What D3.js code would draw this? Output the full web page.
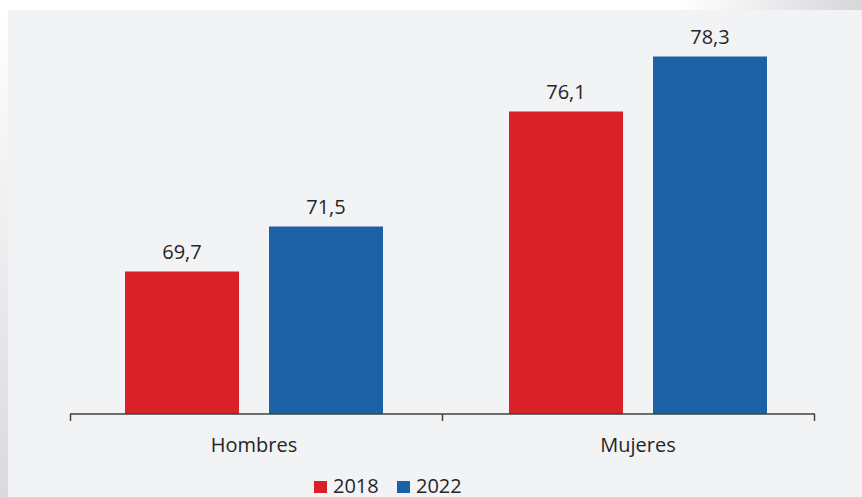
<!DOCTYPE html>
<html><head><meta charset="utf-8">
<script src="https://cdn.jsdelivr.net/npm/d3@7"></script>
<style>body{margin:0;background:#fff;}svg{display:block;}</style>
</head><body>
<svg id="c" width="862" height="497"></svg>
<script>
const categories = ["Hombres", "Mujeres"];
const seriesNames = ["2018", "2022"];
const values2018 = [69.7, 76.1];
const values2022 = [71.5, 78.3];
const colors = ["#db2128", "#1c60a5"];

const svg = d3.select("#c");
const W = 862, H = 497;
const defs = svg.append("defs");
const gl = defs.append("linearGradient").attr("id","gl").attr("x1",0).attr("y1",0).attr("x2",0).attr("y2",1);
gl.append("stop").attr("offset","0%").attr("stop-color","#ffffff");
gl.append("stop").attr("offset","100%").attr("stop-color","#d9dadd");
const gt = defs.append("linearGradient").attr("id","gt").attr("x1",0).attr("y1",0).attr("x2",1).attr("y2",0);
gt.append("stop").attr("offset","0%").attr("stop-color","#ffffff");
gt.append("stop").attr("offset","100%").attr("stop-color","#d6d7da");

svg.append("rect").attr("x",0).attr("y",0).attr("width",W).attr("height",H).attr("fill","#fff");
svg.append("rect").attr("x",0).attr("y",10).attr("width",8).attr("height",H-10).attr("fill","url(#gl)");
svg.append("rect").attr("x",680).attr("y",0).attr("width",W-680).attr("height",10).attr("fill","url(#gt)");
svg.append("rect").attr("x",8).attr("y",10).attr("width",W-8).attr("height",H-10).attr("fill","#f2f3f5");

// axis scale (ticks at band edges) and bar-group scale
const xAxisScale = d3.scaleBand().domain(categories).range([70, 814]);
const x0 = d3.scaleBand().domain(categories).range([62, 830]);
const x1 = d3.scaleBand().domain(seriesNames).range([63, 321]).paddingInner(30/144).paddingOuter(0);
const y = d3.scaleLinear().domain([64, 80]).range([414, 14]);

const data = categories.map((c,i)=>({cat:c, vals:[values2018[i], values2022[i]]}));
const font = "'Open Sans', sans-serif";

const g = svg.append("g");
data.forEach(d=>{
  d.vals.forEach((v,j)=>{
    const xx = x0(d.cat) + x1(seriesNames[j]);
    g.append("rect").attr("x",xx).attr("y",y(v)).attr("width",x1.bandwidth()).attr("height",y(64)-y(v)).attr("fill",colors[j]);
    g.append("text").attr("x",xx + x1.bandwidth()/2).attr("y",y(v)-13).attr("text-anchor","middle")
      .attr("font-family",font).attr("font-size",20).attr("fill","#262626")
      .text(d3.format(".1f")(v).replace(".",","));
  });
});

// axis
const ax = svg.append("g").attr("transform","translate(0,414)");
ax.append("line").attr("x1",70).attr("x2",815).attr("y1",0).attr("y2",0).attr("stroke","#404040").attr("stroke-width",1.5);
const tickXs = [xAxisScale(categories[0])].concat(categories.map(c=>xAxisScale(c)+xAxisScale.bandwidth()));
ax.selectAll("line.t").data(tickXs).join("line").attr("class","t")
  .attr("x1",d=>d+0.5).attr("x2",d=>d+0.5).attr("y1",0).attr("y2",7).attr("stroke","#404040").attr("stroke-width",1.5);
ax.selectAll("text").data(categories).join("text")
  .attr("x",d=>x0(d)+x0.bandwidth()/2).attr("y",38).attr("text-anchor","middle")
  .attr("font-family",font).attr("font-size",20).attr("fill","#262626").text(d=>d);

// legend
const lg = svg.append("g");
const legX = [314, 397];
seriesNames.forEach((s,j)=>{
  lg.append("rect").attr("x",legX[j]).attr("y",481).attr("width",13).attr("height",12).attr("fill",colors[j]);
  lg.append("text").attr("x",legX[j]+19).attr("y",493).attr("font-family",font).attr("font-size",20).attr("fill","#262626").text(s);
});
</script>
</body></html>
